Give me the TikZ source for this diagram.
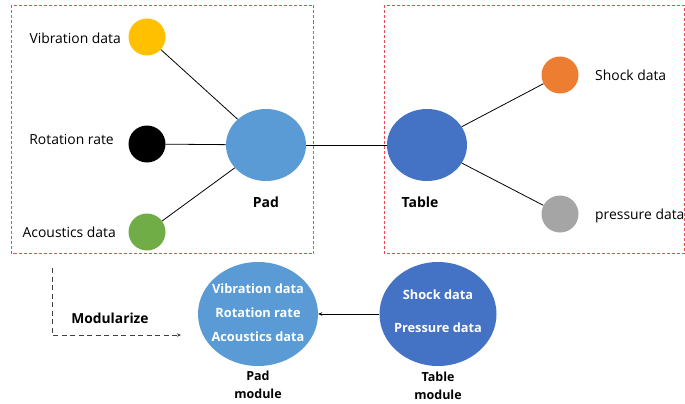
\documentclass[tikz,border=0pt]{standalone}
\usepackage{fontspec}
\setmainfont{Open Sans}
\usetikzlibrary{shapes.geometric,arrows.meta}
\definecolor{cyel}{HTML}{FFC000}
\definecolor{cgrn}{HTML}{70AD47}
\definecolor{cblu}{HTML}{5B9BD5}
\definecolor{cdblu}{HTML}{4472C4}
\definecolor{corg}{HTML}{ED7D31}
\definecolor{cgry}{HTML}{A5A5A5}
\definecolor{cbox}{HTML}{F04858}
\tikzset{
  dot/.style={circle, minimum size=37pt, inner sep=0pt},
  bigell/.style={ellipse, minimum width=80pt, minimum height=72pt, inner sep=0pt},
  modell/.style={ellipse, inner sep=0pt},
  modtxt/.style={font=\fontsize{12.8}{14}\selectfont\bfseries, text=white, inner sep=0pt},
  lab/.style={font=\fontsize{13.9}{16}\selectfont, inner sep=0pt},
  blab/.style={font=\fontsize{14}{16}\selectfont\bfseries, inner sep=0pt},
  mlab/.style={font=\fontsize{12.5}{18}\selectfont\bfseries, inner sep=0pt, align=center},
  conn/.style={draw=black, line width=0.8pt},
  frame/.style={draw=cbox, dash pattern=on 3pt off 2pt, line width=0.8pt}
}
\begin{document}
\begin{tikzpicture}[x=1pt,y=-1pt]
\useasboundingbox[fill=white] (0,0) rectangle (685,404);
\draw[frame] (384.5,5.5) rectangle (684,253.5);
\draw[frame] (11.5,5.5) rectangle (313.5,253.5);
% left dots
\node[dot, fill=cyel] (vib) at (147,37) {};
\node[dot, fill=black] (rot) at (147,144) {};
\node[dot, fill=cgrn] (aco) at (147,232) {};
\node[lab, anchor=east] (vibl) at (121,38) {Vibration data};
\node[lab, anchor=east] (rotl) at (114,139) {Rotation rate};
\node[lab, anchor=east] (acol) at (116,232) {Acoustics data};
% pad and table
\node[bigell, fill=cblu] (pad) at (266,145) {};
\node[bigell, fill=cdblu] (tab) at (427,145) {};
\node[blab] (padl) at (266,202) {Pad};
\node[blab] (tabl) at (420,202) {Table};
% right dots
\node[dot, fill=corg] (sho) at (560,75) {};
\node[dot, fill=cgry] (pre) at (560,214) {};
\node[lab, anchor=west] (shol) at (595,75) {Shock data};
\node[lab, anchor=west] (prel) at (595,216) {pressure data};
% connectors
\draw[conn] (vib) -- (pad);
\draw[conn] (rot) -- (pad);
\draw[conn] (aco) -- (pad);
\draw[conn] (pad.east) -- (tab.west);
\draw[conn] (tab) -- (sho);
\draw[conn] (tab) -- (pre);
% modules
\node[modell, fill=cblu, minimum width=120pt, minimum height=104pt] (padm) at (258,314) {};
\node[modtxt] (pm1) at (258,289) {Vibration data};
\node[modtxt] (pm2) at (258,313) {Rotation rate};
\node[modtxt] (pm3) at (258,337) {Acoustics data};
\node[modell, fill=cdblu, minimum width=117pt, minimum height=104pt] (tabm) at (438,314) {};
\node[modtxt] (tm1) at (438,295) {Shock data};
\node[modtxt] (tm2) at (438,328) {Pressure data};
\node[mlab] (padml) at (258,385) {Pad\\module};
\node[mlab] (tabml) at (438,386) {Table\\module};
\draw[conn, line width=0.6pt, -{Stealth[length=4pt,width=3.5pt]}] (tabm.west) -- (padm.east);
% modularize
\coordinate (m0) at (52,268);
\coordinate (m1) at (52,335);
\coordinate (m2) at (181,335);
\draw[draw=black!75, line width=0.9pt, dash pattern=on 5pt off 3.5pt, -{Stealth[length=4pt,width=3.5pt]}] (m0) -- (m1) -- (m2);
\node[font=\fontsize{13.8}{16}\selectfont\bfseries, inner sep=0pt] (modl) at (110,318) {Modularize};
\end{tikzpicture}
\end{document}
